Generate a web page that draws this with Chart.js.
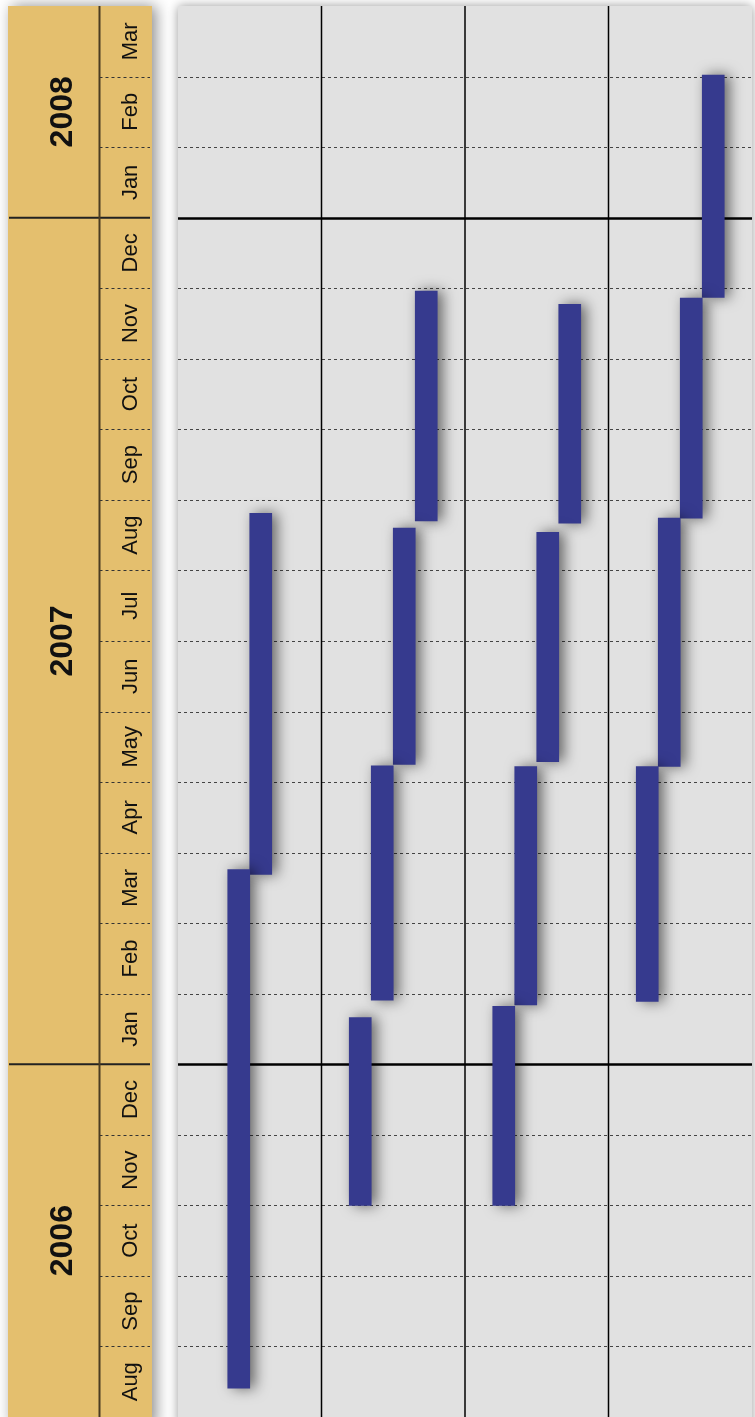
<!DOCTYPE html>
<html>
<head>
<meta charset="utf-8">
<script src="https://cdn.jsdelivr.net/npm/chart.js@4.4.1/dist/chart.umd.min.js"></script>
<style>
    html, body { margin: 0; padding: 0; background: #fff; }
    #wrap { width: 755px; height: 1417px; position: relative; }
</style>
</head>
<body>
<div id="wrap"><canvas id="gantt"></canvas></div>
<script>
// months shown bottom -> top, counted from 1 Aug 2006
const monthLabels = ['Aug', 'Sep', 'Oct', 'Nov', 'Dec',
    'Jan', 'Feb', 'Mar', 'Apr', 'May', 'Jun', 'Jul', 'Aug', 'Sep', 'Oct', 'Nov', 'Dec',
    'Jan', 'Feb', 'Mar'];
const yearLabels = ['2006', '2007', '2008'];
const yearMonths = [5, 12, 3];
const lanes = ['Lane 1', 'Lane 2', 'Lane 3', 'Lane 4'];

// [start, end] in months since 1 Aug 2006
const phase1 = [[0.41, 7.76], [3.0, 5.66], [3.0, 5.82], [5.89, 9.22]];
const phase2 = [[7.69, 12.81], [5.91, 9.23], [5.84, 9.22], [9.22, 12.74]];
const phase3 = [null, [9.25, 12.6], [9.29, 12.54], [12.74, 15.86]];
const phase4 = [null, [12.7, 15.96], [12.67, 15.77], [15.87, 19.02]];

const BAND_LEFT = 8;
const BAND_SPLIT = 99.5;
const BAND_RIGHT = 152;

function yearBoundaries() {
    const out = [];
    let acc = 0;
    yearMonths.forEach(n => { acc += n; out.push(acc); });
    return out; // [5, 17, 20]
}

const ganttFrame = {
    id: 'ganttFrame',
    beforeDraw(chart) {
        const ctx = chart.ctx;
        const area = chart.chartArea;
        const y = chart.scales.y;
        const top = area.top;
        const bottom = area.bottom;

        // plot background
        ctx.save();
        ctx.shadowColor = 'rgba(0,0,0,0.4)';
        ctx.shadowBlur = 10;
        ctx.fillStyle = '#E1E1E1';
        ctx.fillRect(area.left, top, area.right - area.left, bottom - top + 10);
        ctx.restore();

        // golden band
        ctx.save();
        ctx.shadowColor = 'rgba(0,0,0,0.45)';
        ctx.shadowBlur = 14;
        ctx.shadowOffsetX = 4;
        ctx.fillStyle = '#E4BF6E';
        ctx.fillRect(BAND_LEFT, top, BAND_RIGHT - BAND_LEFT, bottom - top + 10);
        ctx.restore();

        ctx.save();
        // month dividers in band
        ctx.strokeStyle = '#333';
        ctx.lineWidth = 1;
        ctx.setLineDash([3, 3]);
        const bounds = yearBoundaries();
        for (let m = 1; m < monthLabels.length; m++) {
            if (bounds.includes(m)) continue;
            const py = Math.round(y.getPixelForValue(m)) + 0.5;
            ctx.beginPath();
            ctx.moveTo(BAND_SPLIT, py);
            ctx.lineTo(BAND_RIGHT - 2, py);
            ctx.stroke();
        }
        ctx.setLineDash([]);

        // year dividers in band
        ctx.strokeStyle = '#222';
        ctx.lineWidth = 2;
        bounds.slice(0, -1).forEach(m => {
            const py = y.getPixelForValue(m);
            ctx.beginPath();
            ctx.moveTo(BAND_LEFT + 1, py);
            ctx.lineTo(BAND_RIGHT - 2, py);
            ctx.stroke();
        });

        // vertical split
        ctx.strokeStyle = '#4A3C22';
        ctx.lineWidth = 2;
        ctx.beginPath();
        ctx.moveTo(BAND_SPLIT, top);
        ctx.lineTo(BAND_SPLIT, bottom);
        ctx.stroke();

        // month labels
        ctx.fillStyle = '#111';
        ctx.textAlign = 'center';
        ctx.textBaseline = 'middle';
        ctx.font = '22px "Liberation Sans", Arial, sans-serif';
        monthLabels.forEach((label, i) => {
            const cy = (y.getPixelForValue(i) + y.getPixelForValue(i + 1)) / 2;
            ctx.save();
            ctx.translate(130, cy);
            ctx.rotate(-Math.PI / 2);
            ctx.fillText(label, 0, 1);
            ctx.restore();
        });

        // year labels
        ctx.font = 'bold 32px "Liberation Sans", Arial, sans-serif';
        let start = 0;
        yearLabels.forEach((label, i) => {
            const end = start + yearMonths[i];
            const cy = (y.getPixelForValue(start) + y.getPixelForValue(end)) / 2;
            ctx.save();
            ctx.translate(62, cy);
            ctx.rotate(-Math.PI / 2);
            ctx.fillText(label, 0, 1);
            ctx.restore();
            start = end;
        });
        ctx.restore();
    },
    beforeDatasetsDraw(chart) {
        const ctx = chart.ctx;
        const area = chart.chartArea;
        const x = chart.scales.x;
        const y = chart.scales.y;
        const bounds = yearBoundaries();

        ctx.save();
        for (let m = 1; m < monthLabels.length; m++) {
            const py = Math.round(y.getPixelForValue(m)) + 0.5;
            ctx.beginPath();
            if (bounds.includes(m)) {
                ctx.setLineDash([]);
                ctx.strokeStyle = '#000';
                ctx.lineWidth = 2.5;
            } else {
                ctx.setLineDash([3, 3]);
                ctx.strokeStyle = '#444';
                ctx.lineWidth = 1;
            }
            ctx.moveTo(area.left, py);
            ctx.lineTo(area.right, py);
            ctx.stroke();
        }
        ctx.setLineDash([]);
        ctx.strokeStyle = '#000';
        ctx.lineWidth = 1.5;
        for (let i = 0; i < lanes.length - 1; i++) {
            const px = (x.getPixelForValue(i) + x.getPixelForValue(i + 1)) / 2;
            ctx.beginPath();
            ctx.moveTo(px, area.top);
            ctx.lineTo(px, area.bottom);
            ctx.stroke();
        }
        ctx.restore();

        // soft shadow under the bars
        ctx.save();
        ctx.shadowColor = 'rgba(0,0,0,0.55)';
        ctx.shadowBlur = 14;
        ctx.shadowOffsetX = 5;
        ctx.shadowOffsetY = 0;
    },
    afterDatasetsDraw(chart) {
        chart.ctx.restore();
    }
};

function makeDataset(label, data) {
    return {
        label: label,
        data: data,
        backgroundColor: '#363A8E',
        borderWidth: 0,
        barThickness: 22,
        categoryPercentage: 0.669,
        skipNull: true
    };
}

const ctx = document.getElementById('gantt').getContext('2d');
new Chart(ctx, {
    type: 'bar',
    data: {
        labels: lanes,
        datasets: [
            makeDataset('Phase 1', phase1),
            makeDataset('Phase 2', phase2),
            makeDataset('Phase 3', phase3),
            makeDataset('Phase 4', phase4)
        ]
    },
    options: {
        responsive: true,
        maintainAspectRatio: false,
        animation: false,
        layout: { padding: { left: 178, top: 6, right: 3, bottom: 0 } },
        scales: {
            x: { display: false },
            y: { display: false, min: 0, max: monthLabels.length }
        },
        plugins: {
            legend: { display: false },
            tooltip: { enabled: false }
        }
    },
    plugins: [ganttFrame]
});
</script>
</body>
</html>
